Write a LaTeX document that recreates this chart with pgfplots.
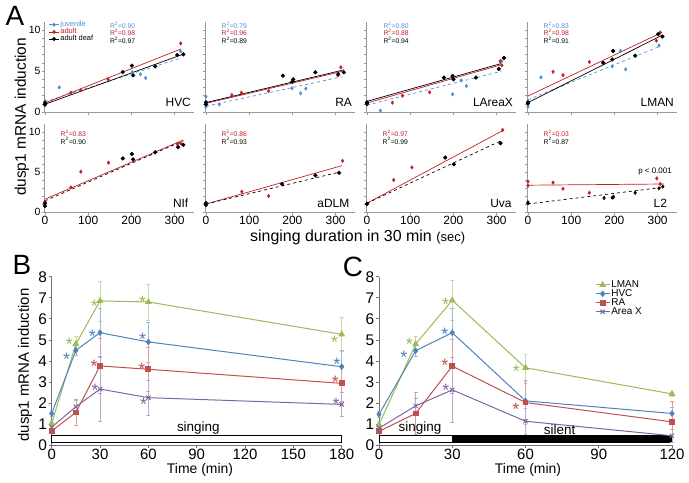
\documentclass[border=0pt]{standalone}
\usepackage{fontspec}
\setmainfont{Liberation Sans}
\usepackage{pgfplots}
\pgfplotsset{compat=1.18}
\definecolor{juv}{HTML}{4A8FDB}
\definecolor{adu}{HTML}{C41E24}
\definecolor{cL}{HTML}{9BBB59}
\definecolor{cH}{HTML}{4F81BD}
\definecolor{cR}{HTML}{C0504D}
\definecolor{cX}{HTML}{8064A2}
\newcommand{\fs}[1]{\fontsize{#1}{#1}\selectfont}
\tikzset{
  pn/.style={anchor=base east, font=\fs{12}, inner sep=0pt},
  rr/.style={anchor=base west, font=\fs{6.8}, inner sep=0pt},
}
\pgfplotsset{
  tp/.style={scale only axis, anchor=south west, width=150bp,
    xmin=-2, xmax=345, ymin=0, ymax=11,
    axis x line*=bottom, axis y line*=left,
    axis line style={draw=black!40, line width=0.6pt},
    xtick={0,100,200,300}, ytick={0,5,10}, minor ytick={1,2,3,4,6,7,8,9},
    tick align=outside, major tick length=2.5bp, minor tick length=2.5bp,
    every tick/.style={black!40, line width=0.5pt},
    minor tick style={black!40, line width=0.5pt},
    xticklabels={}, yticklabels={}, clip=false,
    /pgf/number format/assume math mode=true,
    x tick label style={font=\fs{12}, inner sep=1bp},
    y tick label style={font=\fs{10.5}, inner sep=1bp}},
  r1/.style={height=90.2bp},
  r2/.style={height=88bp},
  juvm/.style={only marks, mark=diamond*, mark size=1.8pt, color=juv, forget plot},
  adm/.style={only marks, mark=diamond*, mark size=1.8pt, color=adu, forget plot},
  dfm/.style={only marks, mark=*, mark size=1.9pt, color=black, forget plot},
  juvl/.style={juv, dashed, line width=0.7pt, no marks, forget plot},
  adl/.style={adu, line width=0.7pt, no marks, forget plot},
  dfl/.style={black, line width=0.7pt, no marks, forget plot},
  dfld/.style={black, dashed, line width=0.7pt, no marks, forget plot},
  bc/.style={scale only axis, anchor=south west, height=168.3bp,
    ymin=0, ymax=8, ytick={0,...,8},
    axis x line*=bottom, axis y line*=left,
    axis line style={draw=black!55, line width=0.7pt},
    tick align=outside, major tick length=3bp,
    every tick/.style={black!55, line width=0.6pt},
    clip=false, /pgf/number format/assume math mode=true,
    x tick label style={font=\fs{15}, inner sep=0.5bp},
    y tick label style={font=\fs{15.5}, inner sep=1.5bp}},
  eb/.style={error bars/.cd, y dir=both, y explicit,
    error bar style={#1!55, line width=0.6pt},
    error mark options={rotate=90, #1!55, mark size=2pt}},
}
\newcommand{\stt}[3]{\node[text=#1, font=\fs{18}, yshift=-3.6bp, inner sep=0pt] at (axis cs:#2,#3) {*};}
\begin{document}
\begin{tikzpicture}
\useasboundingbox (0,0) rectangle (689bp,-483bp);

% ---------------- Row 1 ----------------
\begin{axis}[tp, r1, at={(44.1bp,-112bp)}, yticklabels={0,5,10},
  legend style={at={(axis cs:8,11.2)}, anchor=north west, draw=none, fill=none,
    font=\fs{7.5}, row sep=-1.8bp, inner sep=0pt, nodes={inner sep=1bp}},
  legend cell align=left,
  legend image code/.code={\draw[mark repeat=2, mark phase=2, #1] plot coordinates {(0bp,0bp) (5bp,0bp) (10bp,0bp)};}]
\addlegendimage{juv, line width=0.8pt, mark=diamond*, mark size=1.6pt}
\addlegendentry{\textcolor{juv}{juvenile}}
\addlegendimage{adu, line width=0.8pt, mark=diamond*, mark size=1.6pt}
\addlegendentry{\textcolor{adu}{adult}}
\addlegendimage{black, line width=0.8pt, mark=*, mark size=1.6pt}
\addlegendentry{adult deaf}
\addplot[juvl] coordinates {(0,1.25) (315,6.6)};
\addplot[adl] coordinates {(0,1.1) (315,7.7)};
\addplot[dfl] coordinates {(0,0.95) (320,7.05)};
\addplot[juvm] coordinates {(0,1.34) (0,1.05) (33,3.0) (202,4.84) (221,4.6) (233,4.15) (314,7.4)};
\addplot[adm] coordinates {(0,1.18) (60,2.36) (83,2.64) (146,4.0) (314,8.37)};
\addplot[dfm] coordinates {(0,1.1) (0,0.9) (180,4.88) (201,5.65) (204,4.47) (255,5.57) (306,6.95) (320,7.03)};
\node[rr, text=juv] at (axis cs:150,10.2) {R\textsuperscript{2}=0.90};
\node[rr, text=adu] at (axis cs:150,9.3) {R\textsuperscript{2}=0.98};
\node[rr] at (axis cs:150,8.4) {R\textsuperscript{2}=0.97};
\node[pn] at (axis cs:338,0.65) {HVC};
\end{axis}

\begin{axis}[tp, r1, at={(205.1bp,-112bp)}]
\addplot[juvl] coordinates {(0,0.7) (315,4.3)};
\addplot[adl] coordinates {(0,1.05) (315,4.95)};
\addplot[dfl] coordinates {(0,1.15) (320,5.15)};
\addplot[juvm] coordinates {(0,1.87) (0,0.65) (31,0.93) (199,2.9) (219,2.27) (231,2.85)};
\addplot[adm] coordinates {(0,1.1) (60,2.07) (82,2.36) (145,2.56) (305,4.47) (312,5.45)};
\addplot[dfm] coordinates {(0,1.18) (0,0.93) (178,4.43) (202,3.98) (200,3.7) (253,4.84) (306,4.6) (319,4.84)};
\node[rr, text=juv] at (axis cs:36,10.2) {R\textsuperscript{2}=0.79};
\node[rr, text=adu] at (axis cs:36,9.3) {R\textsuperscript{2}=0.96};
\node[rr] at (axis cs:36,8.4) {R\textsuperscript{2}=0.89};
\node[pn] at (axis cs:338,0.65) {RA};
\end{axis}

\begin{axis}[tp, r1, at={(366.1bp,-112bp)}]
\addplot[juvl] coordinates {(0,0.85) (310,4.95)};
\addplot[adl] coordinates {(0,1.1) (310,5.75)};
\addplot[dfl] coordinates {(0,1.3) (310,5.9)};
\addplot[juvm] coordinates {(0,0.93) (31,0.16) (198,2.15) (218,3.86) (230,3.17) (312,6.2)};
\addplot[adm] coordinates {(0,1.0) (59,1.14) (82,2.0) (145,2.4) (200,4.0) (308,6.2) (312,5.7)};
\addplot[dfm] coordinates {(0,1.18) (0,1.0) (178,4.2) (198,4.4) (200,4.0) (252,4.2) (305,5.25) (317,6.6)};
\node[rr, text=juv] at (axis cs:38,10.2) {R\textsuperscript{2}=0.80};
\node[rr, text=adu] at (axis cs:38,9.3) {R\textsuperscript{2}=0.88};
\node[rr] at (axis cs:38,8.4) {R\textsuperscript{2}=0.94};
\node[pn] at (axis cs:338,0.65) {LAreaX};
\end{axis}

\begin{axis}[tp, r1, at={(527.1bp,-112bp)}]
\addplot[juvl] coordinates {(0,1.5) (305,8.0)};
\addplot[adl] coordinates {(0,1.95) (310,9.7)};
\addplot[dfl] coordinates {(0,1.15) (310,9.35)};
\addplot[juvm] coordinates {(0,0.65) (30,4.23) (195,5.57) (214,7.44) (226,5.2) (303,8.1)};
\addplot[adm] coordinates {(58,4.9) (81,4.5) (142,6.1) (297,8.7) (306,9.7)};
\addplot[dfm] coordinates {(0,1.18) (0,1.05) (174,6.0) (197,7.44) (195,6.4) (248,6.87) (301,9.5) (311,9.2)};
\node[rr, text=juv] at (axis cs:36,10.2) {R\textsuperscript{2}=0.83};
\node[rr, text=adu] at (axis cs:36,9.3) {R\textsuperscript{2}=0.98};
\node[rr] at (axis cs:36,8.4) {R\textsuperscript{2}=0.91};
\node[pn] at (axis cs:338,0.65) {LMAN};
\end{axis}

% ---------------- Row 2 ----------------
\begin{axis}[tp, r2, at={(44.1bp,-212bp)}, yticklabels={0,5,10}, xticklabels={0,100,200,300}]
\addplot[adl] coordinates {(0,1.6) (320,9.0)};
\addplot[dfld] coordinates {(0,1.4) (320,8.9)};
\addplot[adm] coordinates {(0,1.3) (60,3.08) (83,5.04) (147,6.17) (306,8.5) (314,8.58)};
\addplot[dfm] coordinates {(0,1.08) (0,0.75) (180,6.7) (201,7.25) (204,6.58) (255,7.46) (308,8.1) (320,8.4)};
\node[rr, text=adu] at (axis cs:36,9.4) {R\textsuperscript{2}=0.83};
\node[rr] at (axis cs:36,8.5) {R\textsuperscript{2}=0.90};
\node[pn] at (axis cs:332,0.6) {NIf};
\end{axis}

\begin{axis}[tp, r2, at={(205.1bp,-212bp)}, xticklabels={0,100,200,300}]
\addplot[adl] coordinates {(0,1.0) (315,5.8)};
\addplot[dfld] coordinates {(0,1.0) (310,5.0)};
\addplot[adm] coordinates {(0,1.17) (83,2.54) (145,2.0) (316,6.4)};
\addplot[dfm] coordinates {(0,1.08) (0,0.88) (176,3.5) (253,4.58) (308,4.9)};
\node[rr, text=adu] at (axis cs:36,9.4) {R\textsuperscript{2}=0.86};
\node[rr] at (axis cs:36,8.5) {R\textsuperscript{2}=0.93};
\node[pn] at (axis cs:332,0.6) {aDLM};
\end{axis}

\begin{axis}[tp, r2, at={(366.1bp,-212bp)}, xticklabels={0,100,200,300}]
\addplot[adl] coordinates {(0,1.1) (315,10.2)};
\addplot[dfld] coordinates {(0,1.1) (310,8.9)};
\addplot[adm] coordinates {(0,1.08) (62,4.0) (104,5.58) (314,10.25)};
\addplot[dfm] coordinates {(0,1.0) (181,6.8) (201,5.96) (309,8.6)};
\node[rr, text=adu] at (axis cs:36,9.4) {R\textsuperscript{2}=0.97};
\node[rr] at (axis cs:36,8.5) {R\textsuperscript{2}=0.99};
\node[pn] at (axis cs:335,0.6) {Uva};
\end{axis}

\begin{axis}[tp, r2, at={(527.1bp,-212bp)}, xticklabels={0,100,200,300}]
\addplot[adl] coordinates {(0,3.35) (315,3.5)};
\addplot[dfld] coordinates {(0,1.0) (315,3.1)};
\addplot[adm] coordinates {(0,3.8) (0,3.3) (58,3.67) (81,2.9) (142,2.4) (298,4.2) (306,3.5)};
\addplot[dfm, mark=diamond*, mark size=1.8pt] coordinates {(0,1.2) (0,1.08) (176,1.75) (195,1.8) (198,1.9) (248,2.4) (303,2.96) (312,3.17)};
\node[rr, text=adu] at (axis cs:36,9.4) {R\textsuperscript{2}=0.03};
\node[rr] at (axis cs:36,8.5) {R\textsuperscript{2}=0.87};
\node[anchor=base, font=\fs{8}, inner sep=0pt] at (axis cs:294,4.83) {p < 0.001};
\node[pn] at (axis cs:322,0.6) {L2};
\end{axis}

% ---------------- Panel B ----------------
\begin{axis}[bc, at={(51.7bp,-445bp)}, width=290bp, xmin=0, xmax=180, xtick={0,30,...,180}]
\addplot[draw=black, line width=0.8pt, fill=white, forget plot] coordinates {(0,0.11) (180,0.11) (180,0.46) (0,0.46)} -- cycle;
\addplot[cL, line width=1pt, mark=triangle*, mark size=3pt, eb=cL] coordinates {(0,1.03) +- (0,0.15) (15,4.8) +- (0,0.35) (30,6.85) +- (0,0.95) (60,6.8) +- (0,0.85) (180,5.26) +- (0,0.8)};
\addplot[cH, line width=1pt, mark=diamond*, mark size=2.6pt, eb=cH] coordinates {(0,1.5) +- (0,0.15) (15,4.5) +- (0,0.25) (30,5.34) +- (0,1.15) (60,4.9) +- (0,0.95) (180,3.72) +- (0,0.8)};
\addplot[cR, line width=1pt, mark=square*, mark size=2.4pt, eb=cR] coordinates {(0,0.67) +- (0,0.1) (15,1.55) +- (0,0.6) (30,3.76) +- (0,1.3) (60,3.6) +- (0,1.05) (180,2.93) +- (0,0.85)};
\addplot[cX, line width=1pt, mark=x, mark size=3pt, eb=cX] coordinates {(0,0.85) +- (0,0.1) (15,1.82) +- (0,0.37) (30,2.66) +- (0,1.55) (60,2.25) +- (0,0.85) (180,1.93) +- (0,0.58)};
\node[anchor=base, font=\fs{13.5}, inner sep=0pt] at (axis cs:91,0.63) {singing};
\stt{cL}{11}{4.95}\stt{cL}{26.5}{6.78}\stt{cL}{56.5}{6.93}\stt{cL}{175.6}{5.07}
\stt{cH}{9.3}{4.25}\stt{cH}{25.3}{5.36}\stt{cH}{56.5}{5.18}\stt{cH}{177}{4.0}
\stt{cR}{26.3}{3.93}\stt{cR}{56}{3.76}\stt{cR}{176}{3.17}
\stt{cX}{27}{2.77}\stt{cX}{57}{2.1}\stt{cX}{176.6}{2.09}
\end{axis}

% ---------------- Panel C ----------------
\begin{axis}[bc, at={(379bp,-445bp)}, width=293bp, xmin=0, xmax=120, xtick={0,30,...,120},
  legend style={at={(rel axis cs:0.737,0.985)}, anchor=north west, draw=none, fill=none,
    font=\fs{10}, row sep=-1.8bp, inner sep=0pt, nodes={inner sep=1.2bp}},
  legend cell align=left,
  legend image code/.code={\draw[mark repeat=2, mark phase=2, #1] plot coordinates {(0bp,0bp) (7bp,0bp) (14bp,0bp)};}]
\addplot[draw=black, line width=0.8pt, fill=black, forget plot] coordinates {(30,0.11) (120,0.11) (120,0.46) (30,0.46)} -- cycle;
\addplot[draw=black, line width=0.8pt, fill=white, forget plot] coordinates {(0,0.11) (30,0.11) (30,0.46) (0,0.46)} -- cycle;
\addplot[cL, line width=1pt, mark=triangle*, mark size=3pt, eb=cL] coordinates {(0,0.97) +- (0,0.15) (15,4.8) +- (0,0.35) (30,6.88) +- (0,0.95) (60,3.67) +- (0,0.65) (120,2.43) +- (0,0.1)};
\addlegendentry{LMAN}
\addplot[cH, line width=1pt, mark=diamond*, mark size=2.6pt, eb=cH] coordinates {(0,1.46) +- (0,0.15) (15,4.48) +- (0,0.25) (30,5.34) +- (0,1.15) (60,2.1) +- (0,0.85) (120,1.5) +- (0,0.3)};
\addlegendentry{HVC}
\addplot[cR, line width=1pt, mark=square*, mark size=2.4pt, eb=cR] coordinates {(0,0.65) +- (0,0.1) (15,1.5) +- (0,1.0) (30,3.75) +- (0,1.3) (60,2.02) +- (0,1.05) (120,1.1) +- (0,0.97)};
\addlegendentry{RA}
\addplot[cX, line width=1pt, mark=x, mark size=3pt, eb=cX] coordinates {(0,0.8) +- (0,0.1) (15,1.86) +- (0,0.37) (30,2.62) +- (0,1.55) (60,1.13) +- (0,0.64) (120,0.44) +- (0,0.3)};
\addlegendentry{Area X}
\node[anchor=base, font=\fs{13.5}, inner sep=0pt] at (axis cs:16.8,0.63) {singing};
\node[anchor=base, font=\fs{13.5}, inner sep=0pt] at (axis cs:74,0.52) {silent};
\stt{cL}{12.4}{4.95}\stt{cL}{27.3}{6.84}\stt{cL}{56.3}{3.67}
\stt{cH}{10.2}{4.35}\stt{cH}{27}{5.42}
\stt{cR}{27}{3.96}\stt{cR}{56}{1.86}
\stt{cX}{27.4}{2.78}
\end{axis}

% ---------------- labels ----------------
\node[font=\fs{28}, inner sep=0pt] at (15bp,-16bp) {A};
\node[font=\fs{28}, inner sep=0pt] at (22bp,-265bp) {B};
\node[font=\fs{28}, inner sep=0pt] at (353bp,-267bp) {C};
\node[rotate=90, font=\fs{15.5}, inner sep=0pt] at (22bp,-117bp) {dusp1 mRNA induction};
\node[anchor=base west, font=\fs{16}, inner sep=0pt] at (250bp,-241bp) {singing duration in 30 min \fs{13}(sec)};
\node[rotate=90, font=\fs{15}, inner sep=0pt] at (25bp,-365bp) {dusp1 mRNA induction};
\node[anchor=base, font=\fs{14}, inner sep=0pt] at (200bp,-473bp) {Time (min)};
\node[anchor=base, font=\fs{14}, inner sep=0pt] at (528bp,-473bp) {Time (min)};
\end{tikzpicture}
\end{document}
